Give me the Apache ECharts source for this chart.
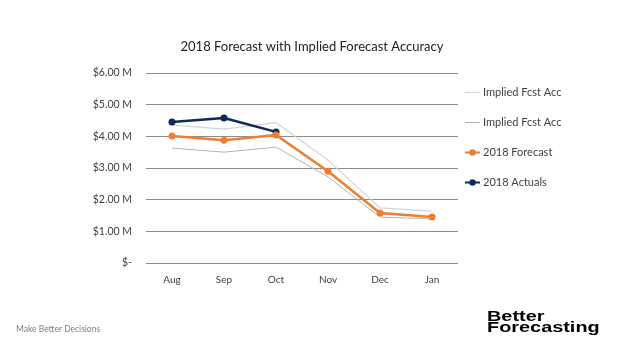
<!DOCTYPE html>
<html>
<head>
<meta charset="utf-8">
<script src="https://cdn.jsdelivr.net/npm/echarts@6/dist/echarts.min.js"></script>
<style>
  html, body { margin: 0; padding: 0; background: #fff; }
  #chart { width: 624px; height: 352px; }
</style>
</head>
<body>
<div id="chart"></div>
<script>
// data, values in $ millions
var months = ['Aug', 'Sep', 'Oct', 'Nov', 'Dec', 'Jan'];
var impliedHigh = [4.36, 4.23, 4.43, 3.25, 1.74, 1.64];
var impliedLow = [3.63, 3.50, 3.66, 2.72, 1.45, 1.39];
var forecast2018 = [4.01, 3.88, 4.04, 2.90, 1.58, 1.45];
var actuals2018 = [4.45, 4.58, 4.14];

var font = 'Lato, "Open Sans", sans-serif';
var plainLine = 'path://M0,0 L15,0 L15,1 L0,1 Z';
var chart = echarts.init(document.getElementById('chart'));

function getOption() {
    return {
        animation: false,
        title: {
            text: '2018 Forecast with Implied Forecast Accuracy',
            left: 'center',
            top: 35,
            textStyle: { fontSize: 13, fontWeight: 'normal', color: '#222', fontFamily: font }
        },
        legend: {
            orient: 'vertical',
            left: 459,
            top: 82,
            itemGap: 19,
            itemWidth: 15,
            itemHeight: 8,
            textStyle: { fontSize: 11, color: '#404040', fontFamily: font, padding: [0, 0, 0, -2] },
            data: [
                { name: 'Implied Fcst Acc', icon: plainLine },
                { name: 'Implied Fcst Acc ', icon: plainLine },
                '2018 Forecast',
                '2018 Actuals'
            ]
        },
        grid: {
            left: 146,
            right: 166,
            top: 73,
            bottom: 89
        },
        xAxis: {
            type: 'category',
            data: months,
            axisLine: { show: false },
            axisTick: { show: false },
            axisLabel: { fontSize: 10, color: '#404040', fontFamily: font, margin: 12 }
        },
        yAxis: {
            type: 'value',
            min: 0,
            max: 6,
            interval: 1,
            axisLabel: {
                fontSize: 10.5,
                color: '#404040',
                fontFamily: font,
                margin: 14,
                formatter: function (v) {
                    return v === 0 ? '$-' : '$' + v.toFixed(2) + ' M';
                }
            },
            splitLine: { lineStyle: { color: '#8c8c8c', width: 1 } }
        },
        series: [
            {
                name: 'Implied Fcst Acc',
                type: 'line',
                data: impliedHigh,
                symbol: 'none',
                lineStyle: { color: '#d4d4d4', width: 1.2 },
                itemStyle: { color: '#d4d4d4' }
            },
            {
                name: 'Implied Fcst Acc ',
                type: 'line',
                data: impliedLow,
                symbol: 'none',
                lineStyle: { color: '#b3b3b3', width: 1 },
                itemStyle: { color: '#b3b3b3' }
            },
            {
                name: '2018 Actuals',
                type: 'line',
                data: actuals2018,
                symbol: 'circle',
                symbolSize: 7,
                lineStyle: { color: '#0b2a5e', width: 2.5 },
                itemStyle: { color: '#0b2a5e' }
            },
            {
                name: '2018 Forecast',
                type: 'line',
                data: forecast2018,
                symbol: 'circle',
                symbolSize: 7,
                lineStyle: { color: '#ed7d31', width: 2.5 },
                itemStyle: { color: '#ed7d31' }
            }
        ],
        graphic: [
            {
                type: 'text',
                left: 16,
                top: 325,
                style: { text: 'Make Better Decisions', fontSize: 8.5, fill: '#7f7f7f', fontFamily: font }
            },
            {
                type: 'text',
                x: 487,
                y: 311,
                scaleX: 1.42,
                style: {
                    text: 'Better\nForecasting',
                    fontSize: 14,
                    lineHeight: 11.5,
                    fontWeight: 'bold',
                    fill: '#000',
                    fontFamily: '"Liberation Sans", Arial, sans-serif'
                }
            }
        ]
    };
}

chart.setOption(getOption());
</script>
</body>
</html>
